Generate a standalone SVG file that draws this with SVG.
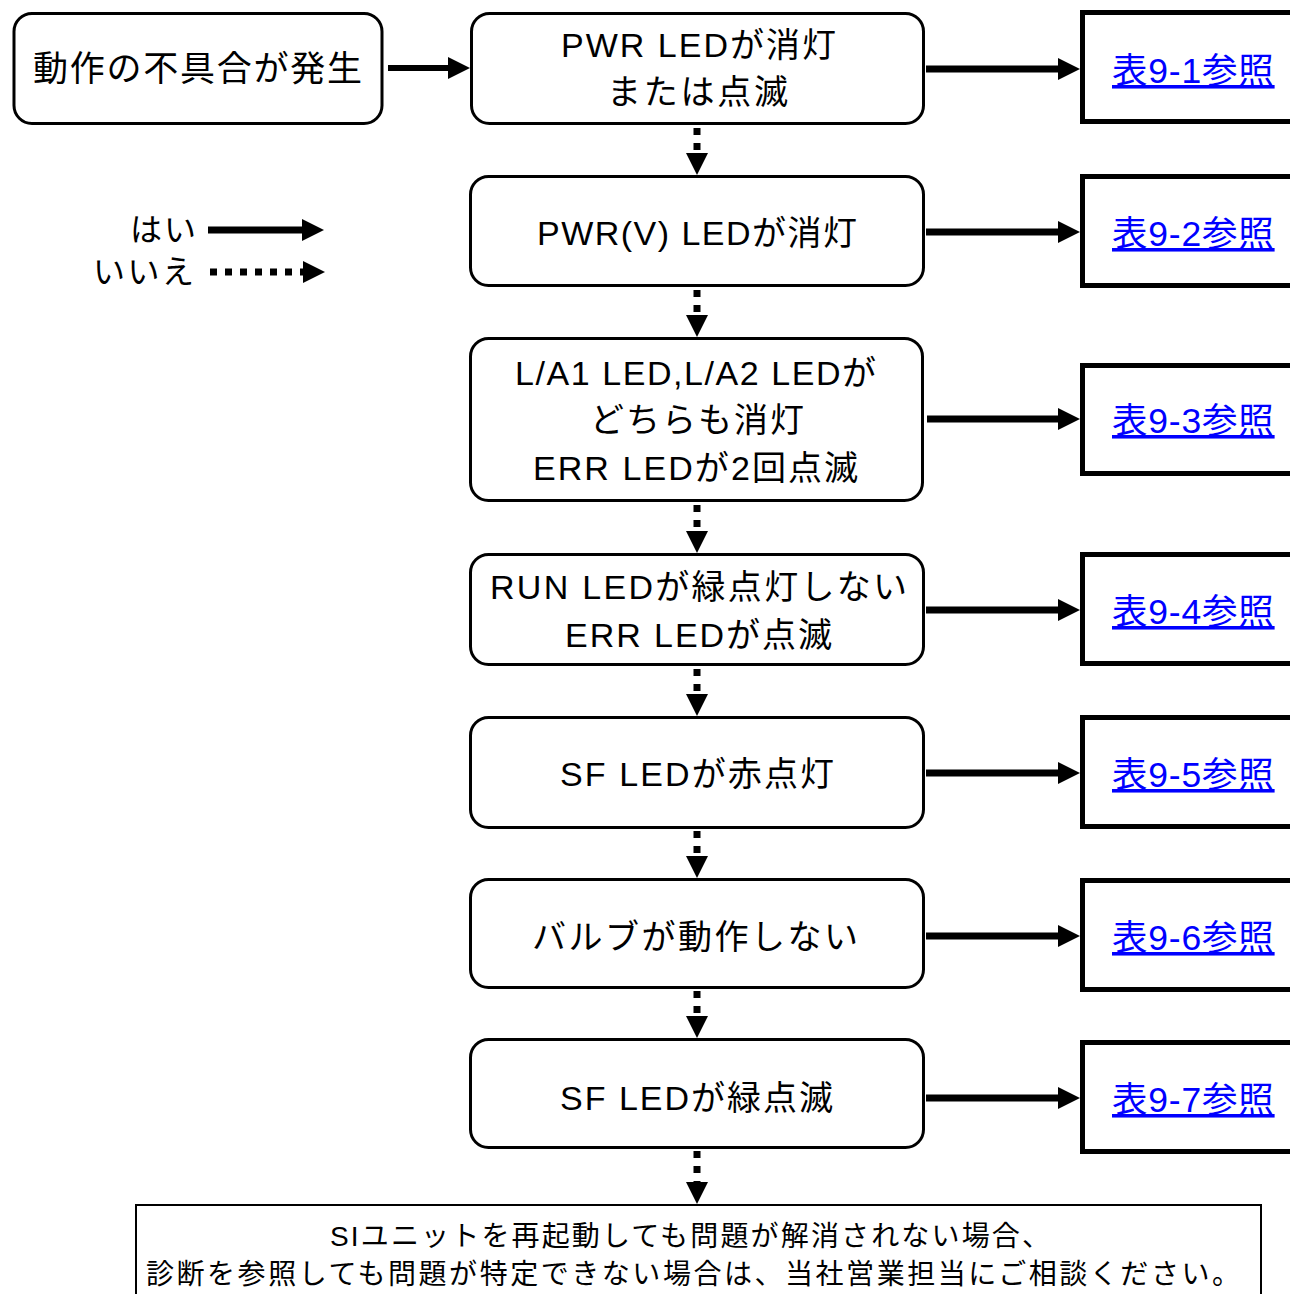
<svg xmlns="http://www.w3.org/2000/svg" width="1290" height="1294" viewBox="0 0 1290 1294">
<defs>
<style>
.bg{fill:#fff}
.node{fill:#fff;stroke:#000;stroke-width:3}
.ref{fill:#fff;stroke:#000;stroke-width:5}
.final{fill:#fff;stroke:#000;stroke-width:2}
text{font-family:"Liberation Sans","Noto Sans CJK JP",sans-serif;fill:#000}
.t{font-size:34px}
.t0{font-size:35px}
.lg{font-size:32px}
.link{font-size:35.5px;fill:#0000ff;text-decoration:underline;letter-spacing:0.8px}
.ft{font-size:28px}
.yes{stroke:#000;stroke-width:7;fill:none}
.no{stroke:#000;stroke-width:7;fill:none;stroke-dasharray:7 8}
</style>
<marker id="ah" viewBox="0 0 22 22" refX="0" refY="11" markerWidth="22" markerHeight="22" markerUnits="userSpaceOnUse" orient="auto">
<path d="M0,0 L22,11 L0,22 z" fill="#000"/>
</marker>
</defs>
<rect class="bg" x="0" y="0" width="1290" height="1294"/>

<g id="start">
<rect class="node" x="14" y="13.5" width="368" height="110" rx="18"/>
<text class="t0" x="33" y="81" textLength="329">動作の不具合が発生</text>
</g>

<g id="n1">
<rect class="node" x="471.5" y="13.5" width="452" height="110" rx="18"/>
<text class="t" x="561" y="57" textLength="275">PWR LEDが消灯</text>
<text class="t" x="607" y="104" textLength="181">または点滅</text>
</g>
<g id="n2">
<rect class="node" x="470.5" y="176.5" width="453" height="109" rx="18"/>
<text class="t" x="537" y="245" textLength="320">PWR(V) LEDが消灯</text>
</g>
<g id="n3">
<rect class="node" x="470.5" y="338.5" width="452" height="162" rx="18"/>
<text class="t" x="515" y="385" textLength="361">L/A1 LED,L/A2 LEDが</text>
<text class="t" x="590" y="432" textLength="214">どちらも消灯</text>
<text class="t" x="533" y="480" textLength="325">ERR LEDが2回点滅</text>
</g>
<g id="n4">
<rect class="node" x="470.5" y="554.5" width="453" height="110" rx="18"/>
<text class="t" x="490" y="599" textLength="417">RUN LEDが緑点灯しない</text>
<text class="t" x="565" y="647" textLength="267">ERR LEDが点滅</text>
</g>
<g id="n5">
<rect class="node" x="470.5" y="717.5" width="453" height="110" rx="18"/>
<text class="t" x="560" y="786" textLength="274">SF LEDが赤点灯</text>
</g>
<g id="n6">
<rect class="node" x="470.5" y="879.5" width="453" height="108" rx="18"/>
<text class="t" x="532" y="949" textLength="326">バルブが動作しない</text>
</g>
<g id="n7">
<rect class="node" x="470.5" y="1039.5" width="453" height="108" rx="18"/>
<text class="t" x="560" y="1110" textLength="273">SF LEDが緑点滅</text>
</g>

<g id="r1"><rect class="ref" x="1082.5" y="12.5" width="230" height="109"/><text class="link" x="1112" y="83">表9-1参照</text></g>
<g id="r2"><rect class="ref" x="1082.5" y="176.5" width="230" height="109"/><text class="link" x="1112" y="246">表9-2参照</text></g>
<g id="r3"><rect class="ref" x="1082.5" y="365.5" width="230" height="108"/><text class="link" x="1112" y="433">表9-3参照</text></g>
<g id="r4"><rect class="ref" x="1082.5" y="554.5" width="230" height="109"/><text class="link" x="1112" y="624">表9-4参照</text></g>
<g id="r5"><rect class="ref" x="1082.5" y="717.5" width="230" height="109"/><text class="link" x="1112" y="787">表9-5参照</text></g>
<g id="r6"><rect class="ref" x="1082.5" y="880.5" width="230" height="109"/><text class="link" x="1112" y="950">表9-6参照</text></g>
<g id="r7"><rect class="ref" x="1082.5" y="1042.5" width="230" height="109"/><text class="link" x="1112" y="1112">表9-7参照</text></g>

<g id="final">
<rect class="final" x="136" y="1205" width="1125" height="110"/>
<text class="ft" x="330" y="1246" textLength="720">SIユニットを再起動しても問題が解消されない場合、</text>
<text class="ft" x="146" y="1284" textLength="1094">診断を参照しても問題が特定できない場合は、当社営業担当にご相談ください。</text>
</g>

<g id="legend">
<text class="lg" x="130" y="241" textLength="66">はい</text>
<text class="lg" x="93" y="283" textLength="101">いいえ</text>
<path class="yes" d="M208,230 H302" marker-end="url(#ah)"/>
<path class="no" d="M210,272 H303" marker-end="url(#ah)"/>
</g>

<g id="connectors">
<path class="yes" style="stroke-width:6" d="M388,68 H448" marker-end="url(#ah)"/>
<path class="yes" d="M926,69 H1058" marker-end="url(#ah)"/>
<path class="yes" d="M926,232 H1058" marker-end="url(#ah)"/>
<path class="yes" d="M927,419 H1058" marker-end="url(#ah)"/>
<path class="yes" d="M926,610 H1058" marker-end="url(#ah)"/>
<path class="yes" d="M926,773 H1058" marker-end="url(#ah)"/>
<path class="yes" d="M926,936 H1058" marker-end="url(#ah)"/>
<path class="yes" d="M926,1098 H1058" marker-end="url(#ah)"/>

<path class="no" d="M697,128 V153" marker-end="url(#ah)"/>
<path class="no" d="M697,290 V315" marker-end="url(#ah)"/>
<path class="no" d="M697,505 V531" marker-end="url(#ah)"/>
<path class="no" d="M697,669 V694" marker-end="url(#ah)"/>
<path class="no" d="M697,831 V856" marker-end="url(#ah)"/>
<path class="no" d="M697,991 V1016" marker-end="url(#ah)"/>
<path class="no" d="M697,1151 V1182" marker-end="url(#ah)"/>
</g>
</svg>
